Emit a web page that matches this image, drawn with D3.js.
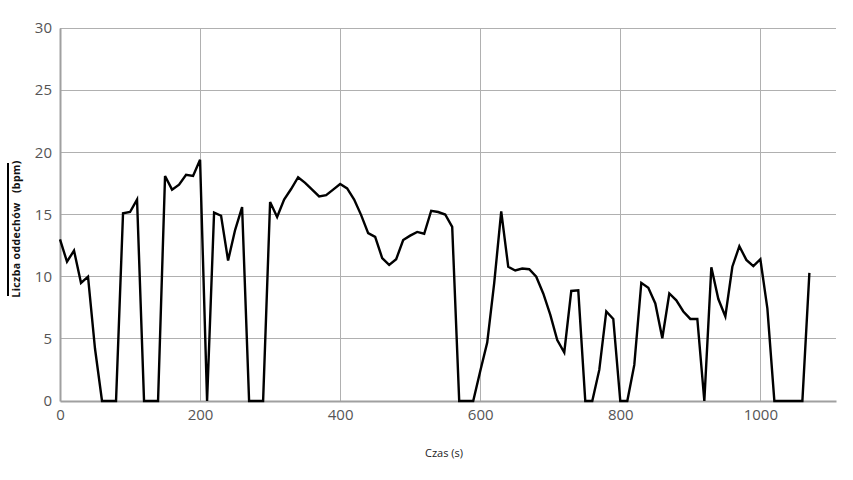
<!DOCTYPE html>
<html><head><meta charset="utf-8">
<script src="https://cdn.jsdelivr.net/npm/d3@7"></script>
<style>body{margin:0;background:#fff;}svg{display:block;}</style>
</head><body>
<svg id="c" width="853" height="480"></svg>
<script>
const times = [0,10,20,30,40,50,60,70,80,90,100,110,120,130,140,150,160,170,180,190,200,210,220,230,240,250,260,270,280,290,300,310,320,330,340,350,360,370,380,390,400,410,420,430,440,450,460,470,480,490,500,510,520,530,540,550,560,570,580,590,600,610,620,630,640,650,660,670,680,690,700,710,720,730,740,750,760,770,780,790,800,810,820,830,840,850,860,870,880,890,900,910,920,930,940,950,960,970,980,990,1000,1010,1020,1030,1040,1050,1060,1070];
const bpm = [13.0,11.2,12.1,9.5,10.0,4.2,0,0,0,15.1,15.2,16.2,0,0,0,18.1,17.0,17.4,18.2,18.1,19.4,0,15.15,14.9,11.3,13.75,15.6,0,0,0,16.0,14.8,16.2,17.05,18.0,17.55,17.0,16.45,16.55,17.0,17.45,17.1,16.2,14.95,13.5,13.2,11.5,10.95,11.4,12.95,13.3,13.6,13.45,15.3,15.2,15.0,14.0,0,0,0,2.4,4.7,9.5,15.25,10.8,10.5,10.65,10.6,10.0,8.65,6.95,4.9,3.9,8.85,8.9,0,0,2.5,7.2,6.6,0,0,2.9,9.5,9.1,7.85,5.05,8.65,8.1,7.2,6.6,6.6,0,10.75,8.2,6.8,10.8,12.45,11.35,10.85,11.4,7.45,0,0,0,0,0,10.3];
const xTicks = [0,200,400,600,800,1000];
const yTicks = [0,5,10,15,20,25,30];
const xLabel = "Czas (s)";
const yLabel = "Liczba oddechów   (bpm)";

const svg = d3.select("#c");
const x = d3.scaleLinear().domain([0,1108]).range([60,836]);
const y = d3.scaleLinear().domain([0,30]).range([401,28]);
const font = "'Open Sans', 'Noto Sans', sans-serif";

// grid
svg.append("g").selectAll("line.h").data(yTicks.filter(d=>d>0)).join("line")
  .attr("x1",x(0)).attr("x2",x(1108)).attr("y1",d=>y(d)).attr("y2",d=>y(d))
  .attr("stroke","#b0b0b0").attr("stroke-width",1).attr("shape-rendering","crispEdges");
svg.append("g").selectAll("line.v").data(xTicks.filter(d=>d>0)).join("line")
  .attr("x1",d=>x(d)).attr("x2",d=>x(d)).attr("y1",y(0)).attr("y2",y(30))
  .attr("stroke","#b0b0b0").attr("stroke-width",1).attr("shape-rendering","crispEdges");

// axes
const xAxis = svg.append("g").attr("transform",`translate(0,${y(0)})`)
  .call(d3.axisBottom(x).tickValues(xTicks).tickSize(0).tickPadding(8).tickFormat(d3.format("d")));
const yAxis = svg.append("g").attr("transform",`translate(${x(0)},0)`)
  .call(d3.axisLeft(y).tickValues(yTicks).tickSize(0).tickPadding(8));
[xAxis,yAxis].forEach(g=>{
  g.select(".domain").attr("stroke","#a0a0a0").attr("stroke-width",2);
  g.selectAll("text").attr("fill","#555").style("font-family",font).style("font-size","15px");
});

// line
svg.append("path").datum(times.map((t,i)=>[t,bpm[i]]))
  .attr("fill","none").attr("stroke","#000").attr("stroke-width",2.4).attr("stroke-linejoin","miter")
  .attr("d",d3.line().x(d=>x(d[0])).y(d=>y(d[1])));

// labels
svg.append("text").attr("x",444).attr("y",457).attr("text-anchor","middle")
  .style("font-family",font).style("font-size","11px").attr("fill","#222").text(xLabel);
svg.append("text").attr("transform","translate(20,229) rotate(-90)").attr("text-anchor","middle")
  .style("white-space","pre").style("letter-spacing","0.4px")
  .style("font-family",font).style("font-size","10.5px").style("font-weight","bold").attr("fill","#111").text(yLabel);
svg.append("line").attr("x1",8).attr("x2",8).attr("y1",163).attr("y2",296).attr("stroke","#000").attr("stroke-width",2);
</script>
</body></html>
